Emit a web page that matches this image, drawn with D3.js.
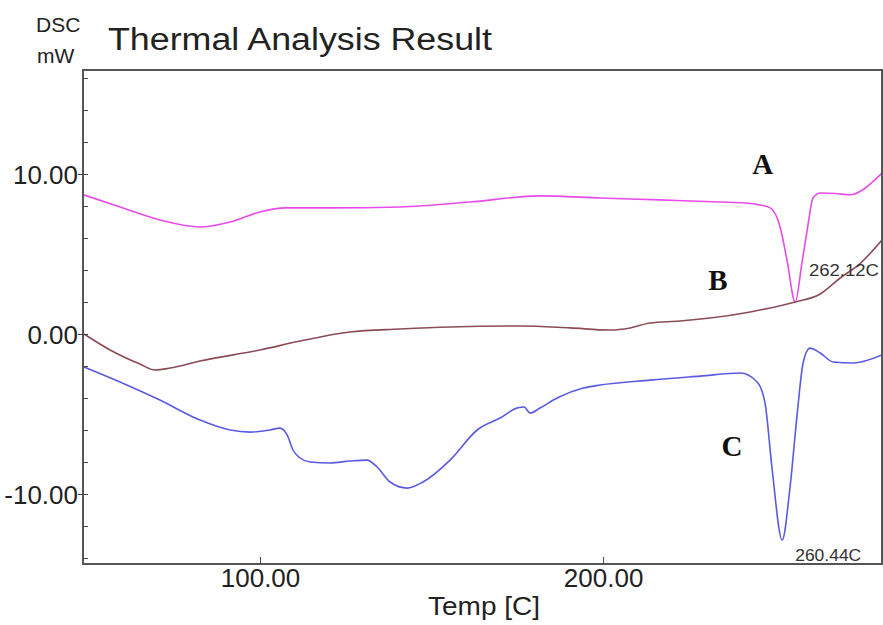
<!DOCTYPE html>
<html>
<head>
<meta charset="utf-8">
<script src="https://cdn.jsdelivr.net/npm/d3@7"></script>
<style>
  body { margin: 0; background: #fff; }
  text { font-family: "Liberation Sans", Arial, sans-serif; fill: #222; }
</style>
</head>
<body>
<div id="chart"></div>
<script>
// temperatures (C) and DSC signal (mW)
var tempA = [48.7, 59.2, 70.8, 82.5, 91.3, 100, 107.3, 120.4, 140.8, 161.2, 181.6, 199.1, 216.6, 234.1, 241.4, 245.8, 248.7, 251.6, 253.6, 256.0, 258.0, 259.5, 261.2, 263.3, 267.7, 272.0, 275.6, 278.5, 281.3];
var dscA  = [8.69, 7.94, 7.13, 6.69, 7.0, 7.63, 7.88, 7.88, 7.94, 8.25, 8.63, 8.5, 8.38, 8.25, 8.19, 8.06, 7.88, 6.69, 4.63, 2.0, 4.5, 6.5, 8.5, 8.81, 8.78, 8.7, 9.0, 9.5, 10.06];

var tempB = [48.7, 56.3, 65.0, 69.4, 73.8, 82.5, 100, 111.7, 126.2, 140.8, 155.4, 175.8, 190.4, 202.0, 207.9, 213.7, 222.4, 231.2, 242.9, 256.0, 263.3, 269.1, 274.9, 281.3];
var dscB  = [0, -1.0, -1.88, -2.25, -2.13, -1.69, -1.0, -0.44, 0.13, 0.31, 0.44, 0.5, 0.38, 0.25, 0.38, 0.69, 0.81, 1.0, 1.38, 2.0, 2.5, 3.5, 4.4, 5.88];

var tempC = [48.7, 59.2, 70.8, 82.5, 91.3, 97.1, 102.9, 105.8, 107.9, 109.6, 111.7, 114.6, 120.4, 126.2, 131.2, 134.1, 137.9, 142.9, 147.5, 155.4, 163.3, 170.0, 174.9, 177.0, 178.7, 181.6, 186.6, 194.2, 199.1, 213.7, 228.3, 240.0, 244.9, 247.2, 249.3, 252.2, 254.5, 256.6, 258.3, 260.3, 263.3, 267.1, 272.9, 281.3];
var dscC  = [-2.06, -3.0, -4.13, -5.38, -6.0, -6.13, -6.0, -5.88, -6.31, -7.25, -7.75, -8.0, -8.06, -7.94, -7.88, -8.31, -9.25, -9.63, -9.25, -7.88, -6.0, -5.25, -4.63, -4.56, -4.94, -4.63, -4.0, -3.38, -3.19, -2.88, -2.63, -2.44, -3.0, -4.31, -8.5, -12.88, -9.56, -4.94, -1.81, -0.88, -1.19, -1.75, -1.81, -1.31];

var seriesNames = ["A", "B", "C"];
var majorY = [-10, 0, 10];
var minorY = [-14, -12, -8, -6, -4, -2, 2, 4, 6, 8, 12, 14, 16];
var ticksX = [100, 200];
var peakLabels = ["262.12C", "260.44C"];

var width = 883, height = 625;
var margin = {top: 70, right: 1, bottom: 61, left: 83};
var w = width - margin.left - margin.right;
var h = height - margin.top - margin.bottom;

var svg = d3.select("#chart").append("svg")
  .attr("width", width)
  .attr("height", height);

var g = svg.append("g")
  .attr("transform", "translate(" + margin.left + "," + margin.top + ")");

var x = d3.scaleLinear().domain([48.4, 281.3]).range([0, w]);
var y = d3.scaleLinear().domain([-14.375, 16.5]).range([h, 0]);

var colors = {A: "#e84ce8", B: "#8a4c55", C: "#5a5ae2"};

var line = d3.line()
  .x(function(d) { return x(d[0]); })
  .y(function(d) { return y(d[1]); })
  .curve(d3.curveMonotoneX);

var series = {
  A: d3.zip(tempA, dscA),
  B: d3.zip(tempB, dscB),
  C: d3.zip(tempC, dscC)
};

g.append("defs").append("clipPath").attr("id", "clip")
  .append("rect").attr("width", w).attr("height", h);

seriesNames.forEach(function(k) {
  g.append("path")
    .datum(series[k])
    .attr("clip-path", "url(#clip)")
    .attr("fill", "none")
    .attr("stroke", colors[k])
    .attr("stroke-width", 1.6)
    .attr("d", line);
});

// frame
g.append("rect")
  .attr("width", w).attr("height", h)
  .attr("fill", "none")
  .attr("stroke", "#555")
  .attr("stroke-width", 2);

// plain hyphen for negatives, like the original
var fmt = function(d) { return d.toFixed(2); };

// y axis
var yAxis = g.append("g")
  .call(d3.axisLeft(y).tickValues(majorY).tickFormat(fmt).tickSize(5).tickPadding(0));
yAxis.select(".domain").remove();
yAxis.selectAll("line").attr("stroke", "#444").attr("x2", 5).attr("x1", -5);
yAxis.selectAll("text").style("font-size", "26px").attr("dy", "0.36em");

var yMinor = g.append("g")
  .call(d3.axisLeft(y).tickValues(minorY).tickFormat("").tickSize(-5));
yMinor.select(".domain").remove();
yMinor.selectAll("line").attr("stroke", "#444");

// x axis
var xAxis = g.append("g")
  .attr("transform", "translate(0," + h + ")")
  .call(d3.axisBottom(x).tickValues(ticksX).tickFormat(fmt).tickSize(-7).tickPadding(5));
xAxis.select(".domain").remove();
xAxis.selectAll("line").attr("stroke", "#444");
xAxis.selectAll("text").style("font-size", "26px");

// titles
svg.append("text").attr("x", 108).attr("y", 50)
  .attr("textLength", 384).attr("lengthAdjust", "spacingAndGlyphs")
  .style("font-size", "31px").text("Thermal Analysis Result");
svg.append("text").attr("x", 36).attr("y", 32).style("font-size", "21px").text("DSC");
svg.append("text").attr("x", 37).attr("y", 63).style("font-size", "21px").text("mW");
svg.append("text").attr("x", 428).attr("y", 615)
  .attr("textLength", 112).attr("lengthAdjust", "spacingAndGlyphs")
  .style("font-size", "25px").text("Temp  [C]");

// curve letters
var letterPos = {A: [246.5, 10.0], B: [233.5, 2.75], C: [237.6, -7.6]};
seriesNames.forEach(function(k) {
  g.append("text")
    .attr("x", x(letterPos[k][0]))
    .attr("y", y(letterPos[k][1]))
    .attr("text-anchor", "middle")
    .style("font-family", "'Liberation Serif', 'Times New Roman', serif")
    .style("font-weight", "bold")
    .style("font-size", "29px")
    .style("fill", "#111")
    .text(k);
});

// peak labels
g.append("text").attr("x", x(260.0)).attr("y", y(3.6))
  .attr("textLength", 70).attr("lengthAdjust", "spacingAndGlyphs")
  .style("font-size", "16px").style("fill", "#333").text(peakLabels[0]);
g.append("text").attr("x", x(256.0)).attr("y", y(-14.2))
  .attr("textLength", 66).attr("lengthAdjust", "spacingAndGlyphs")
  .style("font-size", "16px").style("fill", "#333").text(peakLabels[1]);
</script>
</body>
</html>
